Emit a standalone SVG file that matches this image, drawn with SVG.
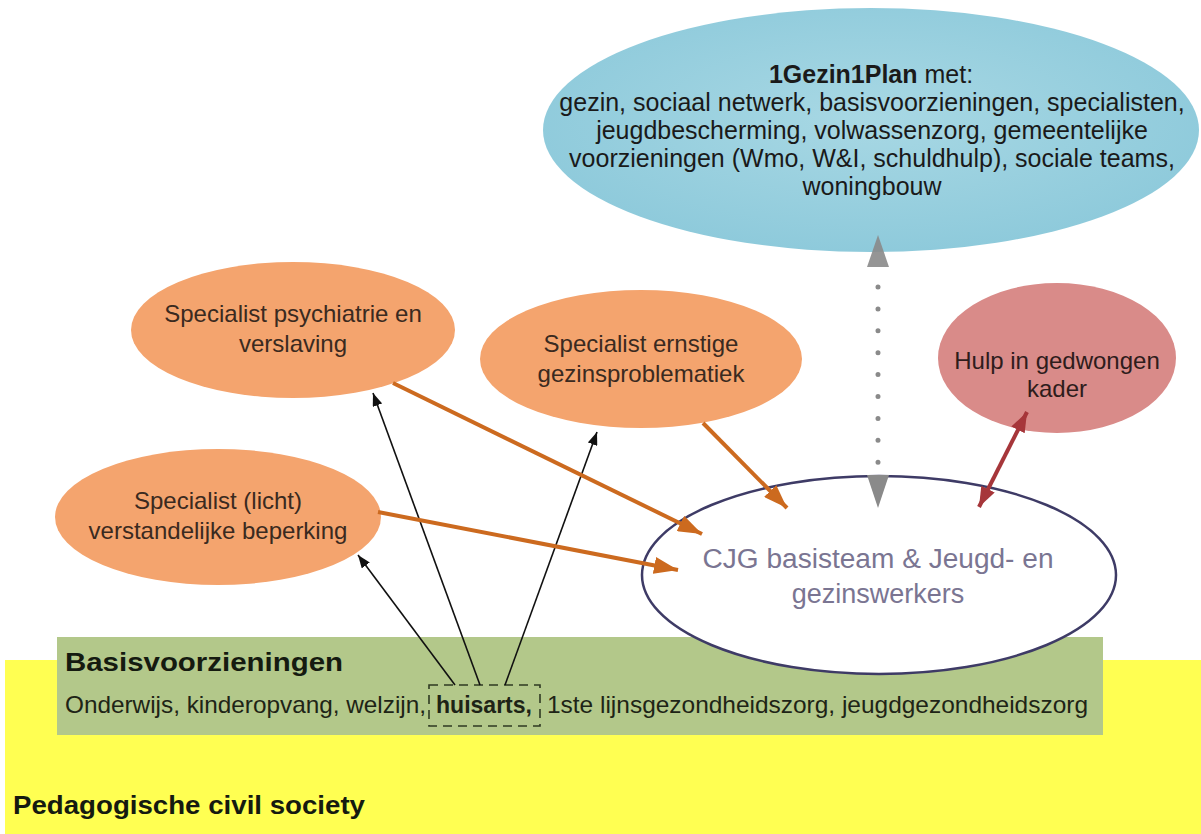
<svg xmlns="http://www.w3.org/2000/svg" width="1201" height="834" viewBox="0 0 1201 834">
<style>
text { font-family: "Liberation Sans", Arial, sans-serif; }
.blue-t { font-size: 25px; fill: #1a1a1a; text-anchor: middle; }
.or-t { font-size: 24px; fill: #3a2a20; text-anchor: middle; }
.red-t { font-size: 24px; fill: #2e1c1c; text-anchor: middle; }
.cjg-t { font-size: 27px; fill: #7a7592; text-anchor: middle; }
.base-t { font-size: 24px; fill: #1e2416; }
.head-t { font-size: 26px; fill: #151a10; font-weight: bold; }
.b { font-weight: bold; }
.orange-node { fill: #f4a46e; }
.blk { stroke: #111; stroke-width: 1.6; fill: none; }
.org { stroke: #cc6a1f; stroke-width: 4; fill: none; }
</style>
<defs>
<radialGradient id="blueGrad" cx="50%" cy="45%" r="55%">
<stop offset="0" stop-color="#a8d8e4"/>
<stop offset="1" stop-color="#8ecadb"/>
</radialGradient>
<marker id="mBlack" markerUnits="userSpaceOnUse" markerWidth="13" markerHeight="10" refX="13" refY="5" orient="auto">
<path d="M0,0 L13,5 L0,10 z" fill="#111"/>
</marker>
<marker id="mOrange" markerUnits="userSpaceOnUse" markerWidth="24" markerHeight="17" refX="24" refY="8.5" orient="auto">
<path d="M0,0 L24,8.5 L0,17 z" fill="#cc6a1f"/>
</marker>
<marker id="mRed" markerUnits="userSpaceOnUse" markerWidth="20" markerHeight="15" refX="20" refY="7.5" orient="auto-start-reverse">
<path d="M0,0 L20,7.5 L0,15 z" fill="#a6363a"/>
</marker>
</defs>

<rect width="1201" height="834" fill="#ffffff"/>

<g id="pedagogische-civil-society">
<rect x="5" y="660" width="1196" height="174" fill="#ffff52"/>
<text class="head-t" x="13" y="814" textLength="352" lengthAdjust="spacingAndGlyphs">Pedagogische civil society</text>
</g>

<g id="basisvoorzieningen">
<rect x="57" y="637" width="1046" height="98" fill="#b3c88a"/>
<text class="head-t" x="65" y="671" textLength="278" lengthAdjust="spacingAndGlyphs">Basisvoorzieningen</text>
<text class="base-t" x="65" y="713" textLength="361" lengthAdjust="spacingAndGlyphs">Onderwijs, kinderopvang, welzijn,</text>
<text class="base-t" x="547" y="713" textLength="541" lengthAdjust="spacingAndGlyphs">1ste lijnsgezondheidszorg, jeugdgezondheidszorg</text>
</g>

<g id="huisarts">
<rect x="429" y="685" width="111" height="41" fill="none" stroke="#2f3a22" stroke-width="1.6" stroke-dasharray="9 6"/>
<text class="base-t b" x="436" y="713" textLength="96" lengthAdjust="spacingAndGlyphs">huisarts,</text>
</g>

<g id="gezinplan">
<ellipse cx="871" cy="130" rx="328" ry="122" fill="url(#blueGrad)"/>
<text class="blue-t" x="871" y="83"><tspan font-weight="bold">1Gezin1Plan</tspan> met:</text>
<text class="blue-t" x="872" y="111">gezin, sociaal netwerk, basisvoorzieningen, specialisten,</text>
<text class="blue-t" x="872" y="139">jeugdbescherming, volwassenzorg, gemeentelijke</text>
<text class="blue-t" x="872" y="167">voorzieningen (Wmo, W&amp;I, schuldhulp), sociale teams,</text>
<text class="blue-t" x="872" y="195">woningbouw</text>
</g>

<g id="specialist-psychiatrie">
<ellipse class="orange-node" cx="293" cy="330" rx="162" ry="68"/>
<text class="or-t" x="293" y="322">Specialist psychiatrie en</text>
<text class="or-t" x="293" y="352">verslaving</text>
</g>

<g id="specialist-ernstige">
<ellipse class="orange-node" cx="641" cy="359" rx="161" ry="69"/>
<text class="or-t" x="641" y="352">Specialist ernstige</text>
<text class="or-t" x="641" y="382">gezinsproblematiek</text>
</g>

<g id="specialist-licht">
<ellipse class="orange-node" cx="218" cy="517" rx="163" ry="68"/>
<text class="or-t" x="218" y="509">Specialist (licht)</text>
<text class="or-t" x="218" y="539">verstandelijke beperking</text>
</g>

<g id="hulp-gedwongen-kader">
<ellipse cx="1057" cy="358" rx="119" ry="75" fill="#d98b89"/>
<text class="red-t" x="1057" y="369">Hulp in gedwongen</text>
<text class="red-t" x="1057" y="397">kader</text>
</g>

<g id="cjg-basisteam">
<ellipse cx="879" cy="575" rx="237" ry="99" fill="#ffffff" stroke="#3e3b66" stroke-width="2.5"/>
<text class="cjg-t" x="878" y="568" textLength="351" lengthAdjust="spacingAndGlyphs">CJG basisteam &amp; Jeugd- en</text>
<text class="cjg-t" x="878" y="603">gezinswerkers</text>
</g>

<g id="connectors">
<line class="blk" x1="455" y1="685" x2="358" y2="555" marker-end="url(#mBlack)"/>
<line class="blk" x1="480" y1="685" x2="373" y2="393" marker-end="url(#mBlack)"/>
<line class="blk" x1="505" y1="685" x2="597" y2="432" marker-end="url(#mBlack)"/>
<line class="org" x1="393" y1="383" x2="702" y2="534" marker-end="url(#mOrange)"/>
<line class="org" x1="378" y1="512" x2="678" y2="570" marker-end="url(#mOrange)"/>
<line class="org" x1="703" y1="423" x2="787" y2="508" marker-end="url(#mOrange)"/>
<line x1="1027" y1="412" x2="979" y2="507" stroke="#a6363a" stroke-width="4" marker-start="url(#mRed)" marker-end="url(#mRed)"/>
<line x1="878" y1="287" x2="878" y2="463" stroke="#8a8a8a" stroke-width="5" stroke-linecap="round" stroke-dasharray="0 21.9"/>
<polygon points="878,235 867,267 889,267" fill="#8a8a8a" fill-opacity="0.9"/>
<polygon points="867,475 889,475 878,508" fill="#8a8a8a"/>
</g>
</svg>
